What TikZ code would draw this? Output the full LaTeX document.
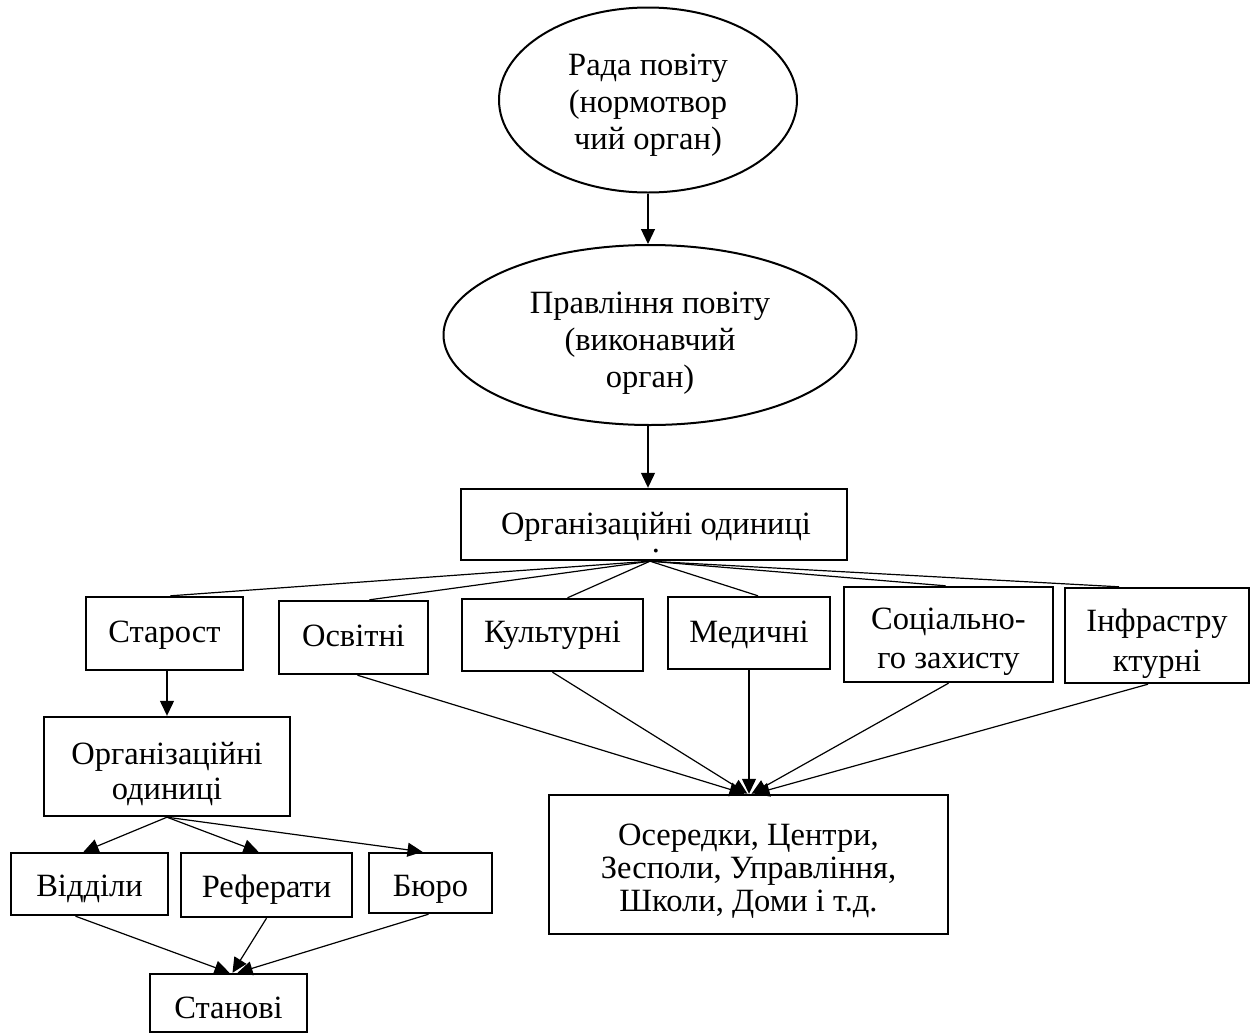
\documentclass[tikz,border=0pt]{standalone}
\usepackage{fontspec}
\setmainfont{Liberation Serif}
\usetikzlibrary{arrows.meta,shapes.geometric,calc}
\begin{document}
\begin{tikzpicture}[x=1pt,y=-1pt,
  txt/.style={font=\fontsize{32.5}{37}\selectfont,align=center,inner sep=0pt},
  box/.style={draw,line width=2.4pt,rectangle,inner sep=0pt},
  oval/.style={draw,line width=2pt,ellipse,inner sep=0pt},
  conn/.style={line width=1.2pt},
  arr/.style={line width=1.2pt,-{Triangle[length=15pt,width=14pt]}}]
\useasboundingbox (0,0) rectangle (1256,1034);

% top ellipses
\node[oval,minimum width=298pt,minimum height=185pt,
  label={[txt,yshift=-5pt]center:{Рада повіту\\(нормотвор\\чий орган)}}] (rada) at (648,100) {};
\node[oval,minimum width=413pt,minimum height=180pt,
  label={[txt,yshift=-8pt]center:{Правління повіту\\(виконавчий\\орган)}}] (prav) at (650,335) {};

% organisational units
\node[box,minimum width=386pt,minimum height=71pt,
  label={[txt,xshift=2pt,yshift=-8pt]center:{Організаційні одиниці\\[-19pt].}}] (org) at (654,524.5) {};

% second row
\node[box,minimum width=157pt,minimum height=73pt,
  label={[txt,yshift=-2pt]center:{Старост}}] (star) at (164.5,633.5) {};
\node[box,minimum width=149pt,minimum height=73pt,
  label={[txt,yshift=2pt]center:{Освітні}}] (osv) at (353.5,637.5) {};
\node[box,minimum width=181pt,minimum height=72pt,
  label={[txt]center:{Культурні}}] (kult) at (552.5,635) {};
\node[box,minimum width=162pt,minimum height=72pt,
  label={[txt,yshift=-2pt]center:{Медичні}}] (med) at (749,633) {};
\node[box,minimum width=209pt,minimum height=95pt,
  label={[txt,font=\fontsize{32.5}{39}\selectfont,yshift=-7pt]center:{Соціально-\\го захисту}}] (soc) at (948.5,634.5) {};
\node[box,minimum width=184pt,minimum height=95pt,
  label={[txt,font=\fontsize{32.5}{40}\selectfont,yshift=-8pt]center:{Інфрастру\\ктурні}}] (infra) at (1157,635.5) {};

% left branch
\node[box,minimum width=246pt,minimum height=99pt,
  label={[txt,font=\fontsize{32.5}{35}\selectfont,yshift=-8pt]center:{Організаційні\\одиниці}}] (org2) at (167,766.5) {};
\node[box,minimum width=157pt,minimum height=62pt,
  label={[txt,yshift=-5pt]center:{Відділи}}] (vid) at (89.5,884) {};
\node[box,minimum width=171pt,minimum height=64pt,
  label={[txt,yshift=-5pt]center:{Реферати}}] (ref) at (266.5,885) {};
\node[box,minimum width=123pt,minimum height=60pt,
  label={[txt,yshift=-6pt]center:{Бюро}}] (buro) at (430.5,883) {};
\node[box,minimum width=157pt,minimum height=58pt,
  label={[txt,yshift=-5pt]center:{Станові}}] (stan) at (228.5,1003) {};

% bottom box
\node[box,minimum width=399pt,minimum height=139pt,
  label={[txt,font=\fontsize{32.5}{33}\selectfont,yshift=-7pt]center:{Осередки, Центри,\\Зесполи, Управління,\\Школи, Доми і т.д.}}] (centres) at (748.5,864.5) {};

% connectors
\draw[arr] (rada.south) -- (rada.south |- prav.north);
\draw[arr] ([xshift=-2pt]prav.south) -- ([xshift=-2pt]prav.south |- org.north);

\coordinate (hub) at ([xshift=-4pt]org.south);
\draw[conn] (hub) -- ([xshift=6pt]star.north);
\draw[conn] (hub) -- ([xshift=16pt]osv.north);
\draw[conn] (hub) -- ([xshift=15pt]kult.north);
\draw[conn] (hub) -- ([xshift=9pt]med.north);
\draw[conn] (hub) -- ([xshift=-3pt]soc.north);
\draw[conn] (hub) -- ([xshift=-38pt]infra.north);

\draw[arr] ([xshift=4pt]osv.south) -- ([xshift=-4pt]centres.north);
\draw[arr] (kult.south) -- ([xshift=-1pt]centres.north);
\draw[arr] (med.south) -- (med.south |- centres.north);
\draw[arr] (soc.south) -- ([xshift=3pt]centres.north);
\draw[arr] ([xshift=-9pt]infra.south) -- ([xshift=6pt]centres.north);

\draw[arr] (org2.north |- star.south) -- (org2.north);
\draw[arr] (org2.south) -- ([xshift=-6pt]vid.north);
\draw[arr] (org2.south) -- ([xshift=-8pt]ref.north);
\draw[arr] (org2.south) -- ([xshift=-8pt]buro.north);

\draw[arr] ([xshift=-14pt]vid.south) -- ([xshift=1pt]stan.north);
\draw[arr] (ref.south) -- ([xshift=4pt]stan.north);
\draw[arr] ([xshift=-2pt]buro.south) -- ([xshift=9pt]stan.north);
\end{tikzpicture}
\end{document}
